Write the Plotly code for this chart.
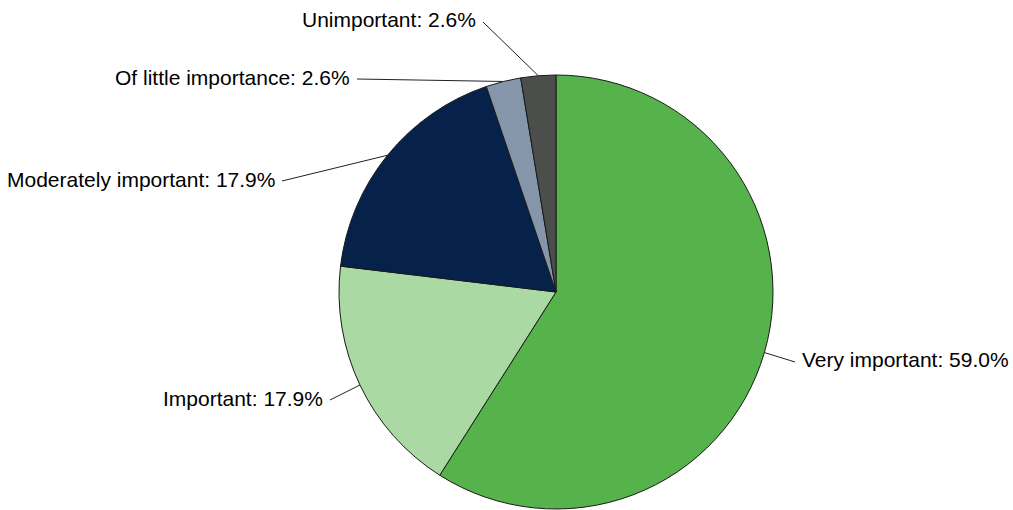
import math
import plotly.graph_objects as go

# Share of respondents per importance rating (percent)
categories = ["Very important", "Important", "Moderately important",
              "Of little importance", "Unimportant"]
shares = [59.0, 17.9, 17.9, 2.6, 2.6]

colors = ["#56b24a", "#abd9a3", "#06224b", "#8696aa", "#4b4e4a"]

W, H = 1013, 510
CX, CY, R = 556, 292, 217  # pie centre and radius in pixels

# Where each leader line ends (pixels), and which side the text sits on
label_anchor = [(795, 362), (330, 400), (282, 181), (357, 79), (483, 22)]
label_side = ["left", "right", "right", "right", "right"]


def px_to_paper(x, y):
    return x / W, (H - y) / H


fig = go.Figure(go.Pie(
    labels=categories,
    values=shares,
    sort=False,
    direction="clockwise",
    rotation=0,
    textinfo="none",
    hoverinfo="label+percent",
    marker=dict(colors=colors, line=dict(color="#1a1a1a", width=1)),
    domain=dict(x=[(CX - R) / W, (CX + R) / W],
                y=[(H - CY - R) / H, (H - CY + R) / H]),
    showlegend=False,
))

total = sum(shares)
cum = 0.0
shapes, annotations = [], []
for name, v, (ax, ay), side in zip(categories, shares, label_anchor, label_side):
    mid = (cum + v / 2) / total * 2 * math.pi
    cum += v
    sx = CX + R * math.sin(mid)
    sy = CY - R * math.cos(mid)
    x0, y0 = px_to_paper(sx, sy)
    x1, y1 = px_to_paper(ax, ay)
    shapes.append(dict(type="line", xref="paper", yref="paper",
                       x0=x0, y0=y0, x1=x1, y1=y1,
                       line=dict(color="#222222", width=1)))
    tx = ax + 5 if side == "left" else ax - 5
    tx_p, ty_p = px_to_paper(tx, ay - 2)
    annotations.append(dict(
        x=tx_p, y=ty_p, xref="paper", yref="paper",
        xanchor=side, yanchor="middle", showarrow=False,
        text=f"{name}: {v / total * 100:.1f}%",
        font=dict(family="Liberation Sans, Arial, sans-serif", size=21,
                  color="#000000"),
    ))

fig.update_layout(
    width=W, height=H,
    margin=dict(l=0, r=0, t=0, b=0),
    paper_bgcolor="white",
    plot_bgcolor="white",
    shapes=shapes,
    annotations=annotations,
)

fig.write_html("out.html")
